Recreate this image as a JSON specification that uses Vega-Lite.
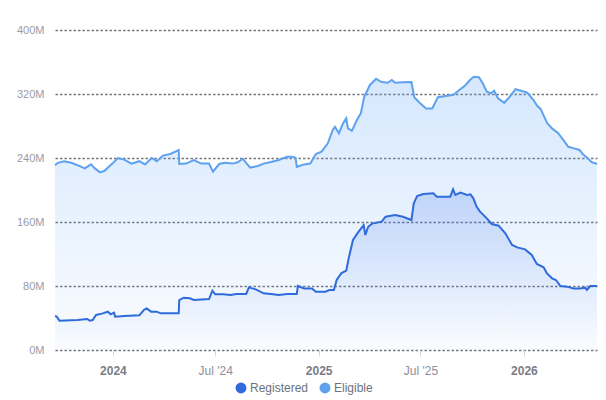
{
  "$schema": "https://vega.github.io/schema/vega-lite/v6.json",
  "width": 542,
  "height": 320,
  "autosize": "none",
  "padding": {"left": 55, "top": 30, "right": 9, "bottom": 50},
  "background": "white",
  "config": {
    "view": {"stroke": null},
    "font": "Liberation Sans"
  },
  "data": {
    "values": [
      {"date": "2023-09-20", "series": "Eligible", "value": 231},
      {"date": "2023-09-25", "series": "Eligible", "value": 234},
      {"date": "2023-10-06", "series": "Eligible", "value": 236},
      {"date": "2023-10-19", "series": "Eligible", "value": 234},
      {"date": "2023-10-30", "series": "Eligible", "value": 231},
      {"date": "2023-11-12", "series": "Eligible", "value": 227},
      {"date": "2023-11-23", "series": "Eligible", "value": 232},
      {"date": "2023-11-30", "series": "Eligible", "value": 227},
      {"date": "2023-12-09", "series": "Eligible", "value": 222},
      {"date": "2023-12-17", "series": "Eligible", "value": 224},
      {"date": "2023-12-31", "series": "Eligible", "value": 233},
      {"date": "2024-01-10", "series": "Eligible", "value": 240},
      {"date": "2024-01-21", "series": "Eligible", "value": 238},
      {"date": "2024-02-03", "series": "Eligible", "value": 233},
      {"date": "2024-02-17", "series": "Eligible", "value": 236},
      {"date": "2024-02-27", "series": "Eligible", "value": 232},
      {"date": "2024-03-10", "series": "Eligible", "value": 240},
      {"date": "2024-03-19", "series": "Eligible", "value": 236},
      {"date": "2024-03-30", "series": "Eligible", "value": 243},
      {"date": "2024-04-12", "series": "Eligible", "value": 245},
      {"date": "2024-04-24", "series": "Eligible", "value": 249},
      {"date": "2024-04-27", "series": "Eligible", "value": 250},
      {"date": "2024-04-28", "series": "Eligible", "value": 232.5},
      {"date": "2024-05-10", "series": "Eligible", "value": 233},
      {"date": "2024-05-24", "series": "Eligible", "value": 237.5},
      {"date": "2024-06-06", "series": "Eligible", "value": 233},
      {"date": "2024-06-20", "series": "Eligible", "value": 233},
      {"date": "2024-06-27", "series": "Eligible", "value": 223},
      {"date": "2024-07-08", "series": "Eligible", "value": 232.5},
      {"date": "2024-07-18", "series": "Eligible", "value": 234},
      {"date": "2024-08-01", "series": "Eligible", "value": 233},
      {"date": "2024-08-10", "series": "Eligible", "value": 234.6},
      {"date": "2024-08-19", "series": "Eligible", "value": 239},
      {"date": "2024-09-01", "series": "Eligible", "value": 228},
      {"date": "2024-09-15", "series": "Eligible", "value": 230},
      {"date": "2024-09-25", "series": "Eligible", "value": 233},
      {"date": "2024-10-08", "series": "Eligible", "value": 235},
      {"date": "2024-10-22", "series": "Eligible", "value": 237.5},
      {"date": "2024-11-06", "series": "Eligible", "value": 241.6},
      {"date": "2024-11-16", "series": "Eligible", "value": 241.6},
      {"date": "2024-11-21", "series": "Eligible", "value": 240},
      {"date": "2024-11-23", "series": "Eligible", "value": 229},
      {"date": "2024-12-06", "series": "Eligible", "value": 232},
      {"date": "2024-12-17", "series": "Eligible", "value": 233},
      {"date": "2024-12-27", "series": "Eligible", "value": 245},
      {"date": "2025-01-06", "series": "Eligible", "value": 248},
      {"date": "2025-01-17", "series": "Eligible", "value": 258},
      {"date": "2025-01-26", "series": "Eligible", "value": 275},
      {"date": "2025-01-30", "series": "Eligible", "value": 279},
      {"date": "2025-02-06", "series": "Eligible", "value": 271},
      {"date": "2025-02-13", "series": "Eligible", "value": 283},
      {"date": "2025-02-19", "series": "Eligible", "value": 289.6},
      {"date": "2025-02-22", "series": "Eligible", "value": 277},
      {"date": "2025-03-01", "series": "Eligible", "value": 274},
      {"date": "2025-03-10", "series": "Eligible", "value": 287.5},
      {"date": "2025-03-17", "series": "Eligible", "value": 296},
      {"date": "2025-03-23", "series": "Eligible", "value": 316.6},
      {"date": "2025-04-02", "series": "Eligible", "value": 331},
      {"date": "2025-04-13", "series": "Eligible", "value": 339},
      {"date": "2025-04-23", "series": "Eligible", "value": 335},
      {"date": "2025-05-04", "series": "Eligible", "value": 334},
      {"date": "2025-05-11", "series": "Eligible", "value": 337.5},
      {"date": "2025-05-17", "series": "Eligible", "value": 334},
      {"date": "2025-05-31", "series": "Eligible", "value": 334.6},
      {"date": "2025-06-15", "series": "Eligible", "value": 335},
      {"date": "2025-06-20", "series": "Eligible", "value": 316},
      {"date": "2025-06-28", "series": "Eligible", "value": 310},
      {"date": "2025-07-11", "series": "Eligible", "value": 302},
      {"date": "2025-07-22", "series": "Eligible", "value": 302},
      {"date": "2025-08-01", "series": "Eligible", "value": 316},
      {"date": "2025-08-15", "series": "Eligible", "value": 317.5},
      {"date": "2025-08-29", "series": "Eligible", "value": 319},
      {"date": "2025-09-08", "series": "Eligible", "value": 325},
      {"date": "2025-09-19", "series": "Eligible", "value": 331},
      {"date": "2025-09-27", "series": "Eligible", "value": 337.5},
      {"date": "2025-10-04", "series": "Eligible", "value": 341.6},
      {"date": "2025-10-13", "series": "Eligible", "value": 341},
      {"date": "2025-10-20", "series": "Eligible", "value": 333},
      {"date": "2025-10-27", "series": "Eligible", "value": 323},
      {"date": "2025-11-03", "series": "Eligible", "value": 321},
      {"date": "2025-11-09", "series": "Eligible", "value": 324},
      {"date": "2025-11-16", "series": "Eligible", "value": 314.6},
      {"date": "2025-11-27", "series": "Eligible", "value": 309},
      {"date": "2025-12-07", "series": "Eligible", "value": 316.6},
      {"date": "2025-12-17", "series": "Eligible", "value": 326},
      {"date": "2025-12-27", "series": "Eligible", "value": 324},
      {"date": "2026-01-07", "series": "Eligible", "value": 321.6},
      {"date": "2026-01-18", "series": "Eligible", "value": 312.5},
      {"date": "2026-01-25", "series": "Eligible", "value": 305},
      {"date": "2026-01-31", "series": "Eligible", "value": 301},
      {"date": "2026-02-11", "series": "Eligible", "value": 284},
      {"date": "2026-02-20", "series": "Eligible", "value": 277},
      {"date": "2026-03-03", "series": "Eligible", "value": 271},
      {"date": "2026-03-10", "series": "Eligible", "value": 264.6},
      {"date": "2026-03-21", "series": "Eligible", "value": 254},
      {"date": "2026-03-31", "series": "Eligible", "value": 252},
      {"date": "2026-04-10", "series": "Eligible", "value": 250},
      {"date": "2026-04-17", "series": "Eligible", "value": 244},
      {"date": "2026-04-24", "series": "Eligible", "value": 240},
      {"date": "2026-05-01", "series": "Eligible", "value": 235},
      {"date": "2026-05-11", "series": "Eligible", "value": 232.5},

      {"date": "2023-09-20", "series": "Registered", "value": 42.5},
      {"date": "2023-09-23", "series": "Registered", "value": 41.7},
      {"date": "2023-09-28", "series": "Registered", "value": 36.7},
      {"date": "2023-10-30", "series": "Registered", "value": 37.5},
      {"date": "2023-11-16", "series": "Registered", "value": 38.75},
      {"date": "2023-11-21", "series": "Registered", "value": 36.7},
      {"date": "2023-11-26", "series": "Registered", "value": 37.5},
      {"date": "2023-12-02", "series": "Registered", "value": 43.75},
      {"date": "2023-12-14", "series": "Registered", "value": 45.8},
      {"date": "2023-12-23", "series": "Registered", "value": 47.9},
      {"date": "2023-12-28", "series": "Registered", "value": 44.6},
      {"date": "2024-01-03", "series": "Registered", "value": 46.7},
      {"date": "2024-01-05", "series": "Registered", "value": 41.7},
      {"date": "2024-01-21", "series": "Registered", "value": 42.5},
      {"date": "2024-02-17", "series": "Registered", "value": 43.3},
      {"date": "2024-02-25", "series": "Registered", "value": 50},
      {"date": "2024-03-01", "series": "Registered", "value": 52},
      {"date": "2024-03-09", "series": "Registered", "value": 47.9},
      {"date": "2024-03-19", "series": "Registered", "value": 47.9},
      {"date": "2024-03-26", "series": "Registered", "value": 45.8},
      {"date": "2024-04-27", "series": "Registered", "value": 45.8},
      {"date": "2024-04-28", "series": "Registered", "value": 62.5},
      {"date": "2024-05-06", "series": "Registered", "value": 65.4},
      {"date": "2024-05-17", "series": "Registered", "value": 64.6},
      {"date": "2024-05-24", "series": "Registered", "value": 62.5},
      {"date": "2024-06-20", "series": "Registered", "value": 63.75},
      {"date": "2024-06-26", "series": "Registered", "value": 74.2},
      {"date": "2024-07-01", "series": "Registered", "value": 69.6},
      {"date": "2024-07-15", "series": "Registered", "value": 69.6},
      {"date": "2024-07-28", "series": "Registered", "value": 68.75},
      {"date": "2024-08-08", "series": "Registered", "value": 70},
      {"date": "2024-08-25", "series": "Registered", "value": 70},
      {"date": "2024-08-30", "series": "Registered", "value": 78.3},
      {"date": "2024-09-11", "series": "Registered", "value": 75.8},
      {"date": "2024-09-25", "series": "Registered", "value": 70.8},
      {"date": "2024-10-08", "series": "Registered", "value": 70},
      {"date": "2024-10-22", "series": "Registered", "value": 68.75},
      {"date": "2024-11-06", "series": "Registered", "value": 70},
      {"date": "2024-11-23", "series": "Registered", "value": 70},
      {"date": "2024-11-25", "series": "Registered", "value": 80},
      {"date": "2024-12-06", "series": "Registered", "value": 77},
      {"date": "2024-12-20", "series": "Registered", "value": 77},
      {"date": "2024-12-27", "series": "Registered", "value": 72.9},
      {"date": "2025-01-13", "series": "Registered", "value": 72.9},
      {"date": "2025-01-20", "series": "Registered", "value": 75},
      {"date": "2025-01-28", "series": "Registered", "value": 75},
      {"date": "2025-02-02", "series": "Registered", "value": 87.5},
      {"date": "2025-02-10", "series": "Registered", "value": 95.8},
      {"date": "2025-02-19", "series": "Registered", "value": 99.2},
      {"date": "2025-02-24", "series": "Registered", "value": 116.7},
      {"date": "2025-03-03", "series": "Registered", "value": 137.5},
      {"date": "2025-03-13", "series": "Registered", "value": 147.9},
      {"date": "2025-03-22", "series": "Registered", "value": 156},
      {"date": "2025-03-25", "series": "Registered", "value": 143.75},
      {"date": "2025-03-30", "series": "Registered", "value": 154},
      {"date": "2025-04-06", "series": "Registered", "value": 158},
      {"date": "2025-04-23", "series": "Registered", "value": 160.4},
      {"date": "2025-04-30", "series": "Registered", "value": 166.6},
      {"date": "2025-05-17", "series": "Registered", "value": 168.75},
      {"date": "2025-05-31", "series": "Registered", "value": 166.6},
      {"date": "2025-06-15", "series": "Registered", "value": 162.5},
      {"date": "2025-06-19", "series": "Registered", "value": 183},
      {"date": "2025-06-25", "series": "Registered", "value": 192.5},
      {"date": "2025-07-06", "series": "Registered", "value": 195},
      {"date": "2025-07-24", "series": "Registered", "value": 195.8},
      {"date": "2025-07-30", "series": "Registered", "value": 191.7},
      {"date": "2025-08-23", "series": "Registered", "value": 191.7},
      {"date": "2025-08-28", "series": "Registered", "value": 200.8},
      {"date": "2025-09-01", "series": "Registered", "value": 193.75},
      {"date": "2025-09-10", "series": "Registered", "value": 196.7},
      {"date": "2025-09-22", "series": "Registered", "value": 193.75},
      {"date": "2025-09-28", "series": "Registered", "value": 194.6},
      {"date": "2025-10-03", "series": "Registered", "value": 189.6},
      {"date": "2025-10-09", "series": "Registered", "value": 179},
      {"date": "2025-10-15", "series": "Registered", "value": 172.9},
      {"date": "2025-10-27", "series": "Registered", "value": 164.6},
      {"date": "2025-11-05", "series": "Registered", "value": 157.5},
      {"date": "2025-11-17", "series": "Registered", "value": 155.4},
      {"date": "2025-11-29", "series": "Registered", "value": 145.8},
      {"date": "2025-12-11", "series": "Registered", "value": 131.25},
      {"date": "2025-12-20", "series": "Registered", "value": 128.3},
      {"date": "2026-01-03", "series": "Registered", "value": 125.8},
      {"date": "2026-01-15", "series": "Registered", "value": 118.75},
      {"date": "2026-01-24", "series": "Registered", "value": 107.5},
      {"date": "2026-02-05", "series": "Registered", "value": 103.3},
      {"date": "2026-02-11", "series": "Registered", "value": 95.8},
      {"date": "2026-02-20", "series": "Registered", "value": 89.6},
      {"date": "2026-02-27", "series": "Registered", "value": 87.5},
      {"date": "2026-03-07", "series": "Registered", "value": 80},
      {"date": "2026-03-19", "series": "Registered", "value": 79.2},
      {"date": "2026-03-30", "series": "Registered", "value": 77},
      {"date": "2026-04-11", "series": "Registered", "value": 77},
      {"date": "2026-04-20", "series": "Registered", "value": 77.9},
      {"date": "2026-04-23", "series": "Registered", "value": 75},
      {"date": "2026-04-29", "series": "Registered", "value": 80},
      {"date": "2026-05-08", "series": "Registered", "value": 80},
      {"date": "2026-05-11", "series": "Registered", "value": 80}
    ]
  },
  "encoding": {
    "x": {
      "field": "date",
      "type": "temporal",
      "title": null,
      "scale": {
        "type": "utc",
        "domain": [
          {"year": 2023, "month": 9, "date": 20, "utc": true},
          {"year": 2026, "month": 5, "date": 11, "utc": true}
        ]
      },
      "axis": {
        "values": [
          {"year": 2024, "month": 1, "date": 1, "utc": true},
          {"year": 2024, "month": 7, "date": 1, "utc": true},
          {"year": 2025, "month": 1, "date": 1, "utc": true},
          {"year": 2025, "month": 7, "date": 1, "utc": true},
          {"year": 2026, "month": 1, "date": 1, "utc": true}
        ],
        "labelExpr": "utcmonth(datum.value) == 0 ? utcFormat(datum.value, '%Y') : utcFormat(datum.value, \"%b '%y\")",
        "labelFontWeight": {"condition": {"test": "utcmonth(datum.value) == 0", "value": "bold"}, "value": "normal"},
        "labelColor": {"condition": {"test": "utcmonth(datum.value) == 0", "value": "#7c7c88"}, "value": "#8e8e9a"},
        "labelFontSize": 12,
        "labelPadding": 9,
        "domain": false,
        "grid": false,
        "ticks": true,
        "tickSize": 6,
        "tickColor": "#d4d4da",
        "tickWidth": 1
      }
    },
    "y": {
      "field": "value",
      "type": "quantitative",
      "title": null,
      "scale": {"domain": [0, 400], "nice": false},
      "axis": {
        "values": [0, 80, 160, 240, 320, 400],
        "labelExpr": "datum.value + 'M'",
        "labelFontSize": 11,
        "labelColor": "#9a9aa5",
        "labelPadding": 11,
        "domain": false,
        "ticks": false,
        "grid": true,
        "gridColor": "#77777e",
        "gridDash": [2.5, 2],
        "gridWidth": 1.4
      }
    }
  },
  "layer": [
    {
      "transform": [{"filter": "datum.series == 'Eligible'"}],
      "mark": {
        "type": "area",
        "fill": {
          "gradient": "linear",
          "x1": 0, "y1": 0, "x2": 0, "y2": 1,
          "stops": [
            {"offset": 0, "color": "rgba(96,165,250,0.26)"},
            {"offset": 1, "color": "rgba(96,165,250,0.03)"}
          ]
        }
      }
    },
    {
      "transform": [{"filter": "datum.series == 'Registered'"}],
      "mark": {
        "type": "area",
        "fill": {
          "gradient": "linear",
          "x1": 0, "y1": 0, "x2": 0, "y2": 1,
          "stops": [
            {"offset": 0, "color": "rgba(37,99,235,0.2)"},
            {"offset": 1, "color": "rgba(37,99,235,0.0)"}
          ]
        }
      }
    },
    {
      "mark": {"type": "line", "strokeWidth": 2, "interpolate": "linear"},
      "encoding": {
        "color": {
          "field": "series",
          "type": "nominal",
          "scale": {"domain": ["Registered", "Eligible"], "range": ["#2f6bdb", "#5ea2ef"]},
          "legend": {
            "title": null,
            "orient": "none",
            "direction": "horizontal",
            "legendX": 180,
            "legendY": 352,
            "symbolType": "circle",
            "symbolSize": 120,
            "labelFontSize": 12,
            "labelColor": "#6b7280",
            "labelOffset": 3,
            "columnPadding": 10,
            "encode": {
              "symbols": {
                "update": {
                  "fill": {"scale": "color", "field": "value"},
                  "strokeWidth": {"value": 0}
                }
              }
            }
          }
        }
      }
    }
  ]
}
